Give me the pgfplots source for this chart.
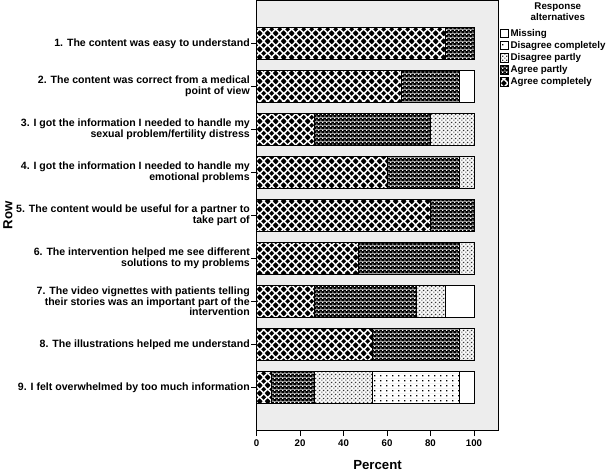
\documentclass[border=0pt]{standalone}
\usepackage{fontspec}
\setmainfont{Liberation Sans}
\usepackage{pgfplots}
\pgfplotsset{compat=1.18}
\usetikzlibrary{patterns}

% Agree completely: black diamonds on white
\pgfdeclarepatterninherentlycolored{acpat}{\pgfpointorigin}{\pgfpoint{8pt}{8pt}}{\pgfpoint{8pt}{8pt}}{%
  \pgfsetfillcolor{white}\pgfpathrectangle{\pgfpointorigin}{\pgfpoint{8pt}{8pt}}\pgfusepath{fill}%
  \pgfsetfillcolor{black}%
  \foreach \cx/\cy in {0/0,8/0,0/8,8/8,4/4}{%
    \pgfpathmoveto{\pgfpoint{\cx pt-2.7pt}{\cy pt}}%
    \pgfpathlineto{\pgfpoint{\cx pt}{\cy pt+2.7pt}}%
    \pgfpathlineto{\pgfpoint{\cx pt+2.7pt}{\cy pt}}%
    \pgfpathlineto{\pgfpoint{\cx pt}{\cy pt-2.7pt}}%
    \pgfpathclose\pgfusepath{fill}%
  }%
}
% Agree partly: white dots on black
\pgfdeclarepatterninherentlycolored{appat}{\pgfpointorigin}{\pgfpoint{4pt}{4pt}}{\pgfpoint{4pt}{4pt}}{%
  \pgfsetfillcolor{black}\pgfpathrectangle{\pgfpointorigin}{\pgfpoint{4pt}{4pt}}\pgfusepath{fill}%
  \pgfsetfillcolor{white}%
  \pgfpathrectangle{\pgfpoint{0.5pt}{0.5pt}}{\pgfpoint{1.2pt}{1.2pt}}\pgfusepath{fill}%
  \pgfpathrectangle{\pgfpoint{2.5pt}{2.5pt}}{\pgfpoint{1.2pt}{1.2pt}}\pgfusepath{fill}%
}
% Disagree partly: small dark squares on white
\pgfdeclarepatterninherentlycolored{dppat}{\pgfpointorigin}{\pgfpoint{4pt}{4pt}}{\pgfpoint{4pt}{4pt}}{%
  \pgfsetfillcolor{white}\pgfpathrectangle{\pgfpointorigin}{\pgfpoint{4pt}{4pt}}\pgfusepath{fill}%
  \pgfsetfillcolor{black!80}%
  \pgfpathrectangle{\pgfpoint{0.4pt}{0.4pt}}{\pgfpoint{1.3pt}{1.3pt}}\pgfusepath{fill}%
  \pgfpathrectangle{\pgfpoint{2.4pt}{2.4pt}}{\pgfpoint{1.3pt}{1.3pt}}\pgfusepath{fill}%
}
% Disagree completely: sparse dots on white
\pgfdeclarepatterninherentlycolored{dcpat}{\pgfpointorigin}{\pgfpoint{6pt}{5pt}}{\pgfpoint{6pt}{5pt}}{%
  \pgfsetfillcolor{white}\pgfpathrectangle{\pgfpointorigin}{\pgfpoint{6pt}{5pt}}\pgfusepath{fill}%
  \pgfsetfillcolor{black}%
  \pgfpathrectangle{\pgfpoint{2.3pt}{1.8pt}}{\pgfpoint{1.4pt}{1.4pt}}\pgfusepath{fill}%
}

\begin{document}
\begin{tikzpicture}
\begin{axis}[
  scale only axis, width=238pt, height=423pt,
  xbar stacked, bar width=31pt,
  xmin=0, xmax=111.3, ymin=0, ymax=10, y dir=reverse,
  ytick={1,2,3,4,5,6,7,8,9},
  yticklabels={
    {1. The content was easy to understand},
    {2. The content was correct from a medical\\point of view},
    {3. I got the information I needed to handle my~\\sexual problem/fertility distress},
    {4. I got the information I needed to handle my~\\emotional problems},
    {5. The content would be useful for a partner to\\take part of},
    {6. The intervention helped me see different\\solutions to my problems},
    {7. The video vignettes with patients telling\\their stories was an important part of the\\intervention},
    {8. The illustrations helped me understand},
    {9. I felt overwhelmed by too much information}},
  yticklabel style={align=right, font=\fontsize{10.4}{10.3}\selectfont\bfseries, inner sep=1pt},
  xtick={0,20,40,60,80,100},
  xticklabel style={font=\fontsize{9.5}{10}\selectfont\bfseries},
  /pgf/number format/assume math mode=true,
  tick align=outside, tick pos=left,
  major tick length=5.5pt,
  tick style={black, line width=0.9pt},
  axis line style={black, line width=0.8pt},
  axis background/.style={fill=black!7},
  xlabel={Percent}, ylabel={Row},
  xlabel style={font=\fontsize{13}{14}\selectfont\bfseries, yshift=-7pt},
  ylabel style={font=\fontsize{13}{14}\selectfont\bfseries, yshift=-1pt},
  clip=false,
  reverse legend,
  legend style={at={(1.0,0.937)}, anchor=north west, draw=none, fill=none,
    font=\fontsize{9.6}{10}\selectfont\bfseries, row sep=0.5pt,
    nodes={inner sep=1.5pt}, inner xsep=1pt, inner ysep=0pt},
  legend cell align=left,
  legend image code/.code={\draw[#1, line width=0.6pt] (0pt,-4pt) rectangle (8.5pt,4.5pt);},
  every axis plot/.append style={draw=black, line width=0.7pt},
]
\addplot[pattern=acpat] coordinates {(86.67,1) (66.67,2) (26.67,3) (60,4) (80,5) (46.67,6) (26.67,7) (53.33,8) (6.67,9)};
\addplot[pattern=appat] coordinates {(13.33,1) (26.67,2) (53.33,3) (33.33,4) (20,5) (46.67,6) (46.66,7) (40,8) (20,9)};
\addplot[pattern=dppat] coordinates {(0,1) (0,2) (20,3) (6.67,4) (0,5) (6.66,6) (13.33,7) (6.67,8) (26.66,9)};
\addplot[pattern=dcpat] coordinates {(0,1) (0,2) (0,3) (0,4) (0,5) (0,6) (0,7) (0,8) (40,9)};
\addplot[fill=white] coordinates {(0,1) (6.66,2) (0,3) (0,4) (0,5) (0,6) (13.34,7) (0,8) (6.67,9)};
\legend{Agree completely, Agree partly, Disagree partly, Disagree completely, Missing}
\node[anchor=north, align=center, font=\fontsize{9.6}{10.8}\selectfont\bfseries, inner sep=0pt] at (rel axis cs:1.245,0.995) {Response\\alternatives};
\end{axis}
\end{tikzpicture}
\end{document}
